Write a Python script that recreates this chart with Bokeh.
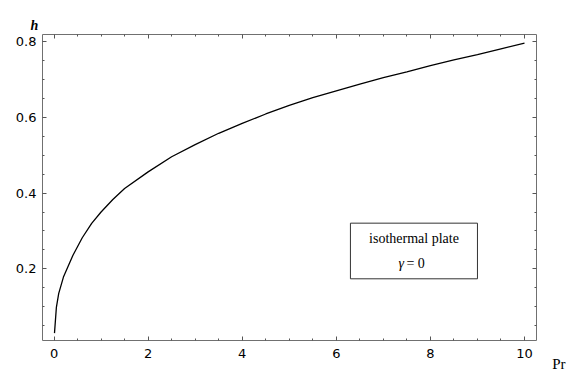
from bokeh.plotting import figure
from bokeh.models import Range1d, LinearAxis, FixedTicker, Label, BoxAnnotation, Title
from bokeh.embed import file_html
from bokeh.resources import INLINE

# data
pr = [0.01, 0.05, 0.1, 0.2, 0.4, 0.6, 0.8, 1.0, 1.25, 1.5, 2.0, 2.5, 3.0, 3.5,
      4.0, 4.5, 5.0, 5.5, 6.0, 6.5, 7.0, 7.5, 8.0, 8.5, 9.0, 9.5, 10.0]
h = [0.030, 0.098, 0.135, 0.178, 0.235, 0.282, 0.320, 0.350, 0.383, 0.412,
     0.456, 0.496, 0.528, 0.558, 0.584, 0.609, 0.632, 0.652, 0.670, 0.688,
     0.705, 0.720, 0.737, 0.752, 0.766, 0.781, 0.796]
x_major = [0, 2, 4, 6, 8, 10]
y_major = [0.2, 0.4, 0.6, 0.8]
x_minor = [i * 0.5 for i in range(0, 21) if i % 4 != 0]
y_minor = [round(i * 0.05, 2) for i in range(1, 17) if i % 4 != 0]
box_title = "isothermal plate"
box_sym = "γ"
box_val = "= 0"
x_label = "Pr"
y_label = "h"

p = figure(width=577, height=370, output_backend="svg", toolbar_location=None,
           x_range=Range1d(-0.245, 10.255), y_range=Range1d(0.0105, 0.819),
           x_axis_location=None, y_axis_location=None,
           min_border_left=42, min_border_right=41,
           min_border_top=34, min_border_bottom=30)
p.grid.visible = False
p.background_fill_color = "white"
p.border_fill_color = "white"
p.outline_line_color = "#707070"
p.outline_line_width = 1

xt = FixedTicker(ticks=x_major, minor_ticks=x_minor)
yt = FixedTicker(ticks=y_major, minor_ticks=y_minor)

def style(ax, show_labels):
    ax.axis_line_color = None
    ax.major_tick_in = 4
    ax.major_tick_out = 0
    ax.minor_tick_in = 2
    ax.minor_tick_out = 0
    ax.major_tick_line_color = "#555555"
    ax.minor_tick_line_color = "#555555"
    if show_labels:
        ax.major_label_text_font = "DejaVu Sans"
        ax.major_label_text_font_size = "13px"
        ax.major_label_text_color = "black"
    else:
        ax.major_label_text_font_size = "0px"
        ax.major_label_text_alpha = 0
        ax.major_label_standoff = 0

bx = LinearAxis(ticker=xt)
style(bx, True)
bx.major_label_standoff = 8
p.add_layout(bx, "below")
ly = LinearAxis(ticker=yt)
style(ly, True)
ly.major_label_standoff = 6
p.add_layout(ly, "left")
tx = LinearAxis(ticker=xt)
style(tx, False)
p.add_layout(tx, "above")
ry = LinearAxis(ticker=yt)
style(ry, False)
p.add_layout(ry, "right")

p.add_layout(Title(text=y_label, align="left", offset=-12, standoff=4,
                   text_font="Liberation Serif", text_font_style="bold italic",
                   text_font_size="14px", text_color="black"), "above")
p.add_layout(Title(text=x_label, align="right", offset=-29, standoff=-10,
                   vertical_align="top",
                   text_font="Liberation Serif", text_font_style="normal",
                   text_font_size="15px", text_color="black"), "below")

p.line(pr, h, line_color="black", line_width=1.3)

p.add_layout(BoxAnnotation(left=6.3, right=9.0, bottom=0.1735, top=0.3205,
                           fill_color="white", fill_alpha=1.0,
                           line_color="#333333", line_alpha=1.0, line_width=1))
p.add_layout(Label(x=7.65, y=0.280, text=box_title, text_align="center",
                   text_baseline="middle", text_font="Liberation Serif",
                   text_font_size="14px", text_color="black"))
p.add_layout(Label(x=7.44, y=0.214, text=box_sym, text_align="right",
                   text_baseline="middle", text_font="Liberation Serif",
                   text_font_style="italic",
                   text_font_size="14px", text_color="black"))
p.add_layout(Label(x=7.49, y=0.214, text=box_val, text_align="left",
                   text_baseline="middle", text_font="Liberation Serif",
                   text_font_size="14px", text_color="black"))

open("out.html", "w").write(file_html(p, INLINE))
